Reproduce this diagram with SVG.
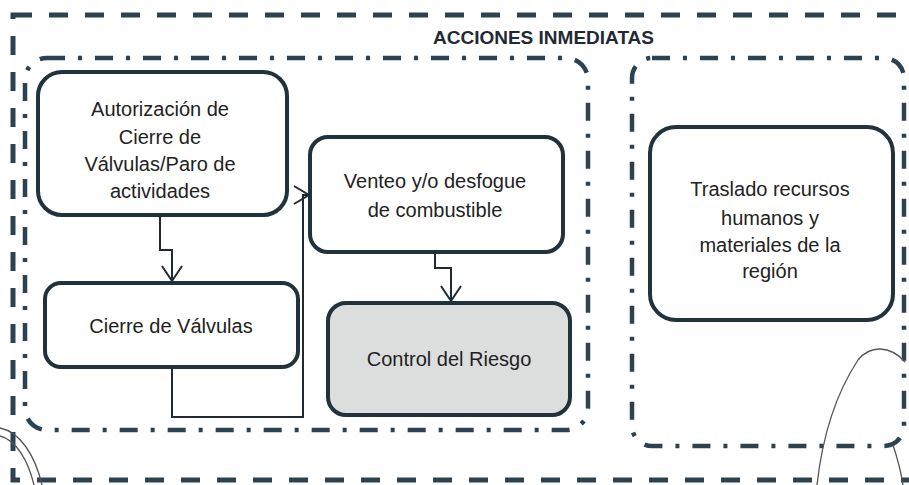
<svg xmlns="http://www.w3.org/2000/svg" width="909" height="485" viewBox="0 0 909 485">
<style>
.bg{fill:#ffffff}
.outer{fill:none;stroke:#2c4250;stroke-width:5;stroke-dasharray:19 17}
.group{fill:none;stroke:#2c4250;stroke-width:4.5;stroke-dasharray:18 13 4 13}
.box{fill:#ffffff;stroke:#22323d;stroke-width:4}
.box.risk{fill:#dcdedd}
.t{font-family:"Liberation Sans",Arial,sans-serif;font-size:20px;fill:#222;text-anchor:middle}
.title{font-family:"Liberation Sans",Arial,sans-serif;font-size:19px;font-weight:bold;fill:#1f2a33}
.conn{fill:none;stroke:#1f2a33;stroke-width:2}
.scrib{fill:none;stroke:#555;stroke-width:1.3}
</style>
<rect class="bg" x="0" y="0" width="909" height="485"/>
<g id="frame">
<rect class="outer" x="13" y="15" width="905" height="465"/>
<text class="title" x="433" y="44">ACCIONES INMEDIATAS</text>
</g>
<g id="group-left">
<rect class="group" x="25" y="58" width="563" height="372" rx="22"/>
</g>
<g id="group-right">
<rect class="group" x="632" y="58" width="272" height="388" rx="20"/>
</g>
<g id="n1">
<rect class="box" x="38" y="72" width="249" height="143" rx="24"/>
<text class="t" x="160" y="116">Autorización de</text>
<text class="t" x="160" y="144">Cierre de</text>
<text class="t" x="160" y="171">Válvulas/Paro de</text>
<text class="t" x="160" y="198">actividades</text>
</g>
<g id="n2">
<rect class="box" x="45" y="283" width="253" height="84" rx="16"/>
<text class="t" x="171" y="333">Cierre de Válvulas</text>
</g>
<g id="n3">
<rect class="box" x="310" y="137" width="253" height="115" rx="18"/>
<text class="t" x="435" y="188">Venteo y/o desfogue</text>
<text class="t" x="435" y="217">de combustible</text>
</g>
<g id="n4">
<rect class="box risk" x="328" y="303" width="242" height="112" rx="18"/>
<text class="t" x="449" y="366">Control del Riesgo</text>
</g>
<g id="n5">
<rect class="box" x="650" y="127" width="243" height="193" rx="26"/>
<text class="t" x="770" y="196">Traslado recursos</text>
<text class="t" x="770" y="225">humanos y</text>
<text class="t" x="770" y="252">materiales de la</text>
<text class="t" x="770" y="278">región</text>
</g>
<g id="connectors">
<path class="conn" d="M160 215 V250 H172 V282"/>
<path class="conn" d="M162 266 L172 281 L182 266"/>
<path class="conn" d="M172 367 V417 H303 V195 H309"/>
<path class="conn" d="M294 186 L309 195 L294 204"/>
<path class="conn" d="M435 252 V268 H451 V301"/>
<path class="conn" d="M441 286 L451 301 L461 286"/>
</g>
<g id="marks">
<path class="scrib" d="M817 485 C822 440 835 395 858 360 C870 345 890 345 905 362"/>
<path class="scrib" d="M893 445 C898 460 901 472 903 485" stroke-width="3" stroke="#888"/>
<path class="scrib" d="M0 428 C20 432 35 455 42 485"/>
<path class="scrib" d="M0 436 C16 440 28 460 34 485"/>
</g>
</svg>
